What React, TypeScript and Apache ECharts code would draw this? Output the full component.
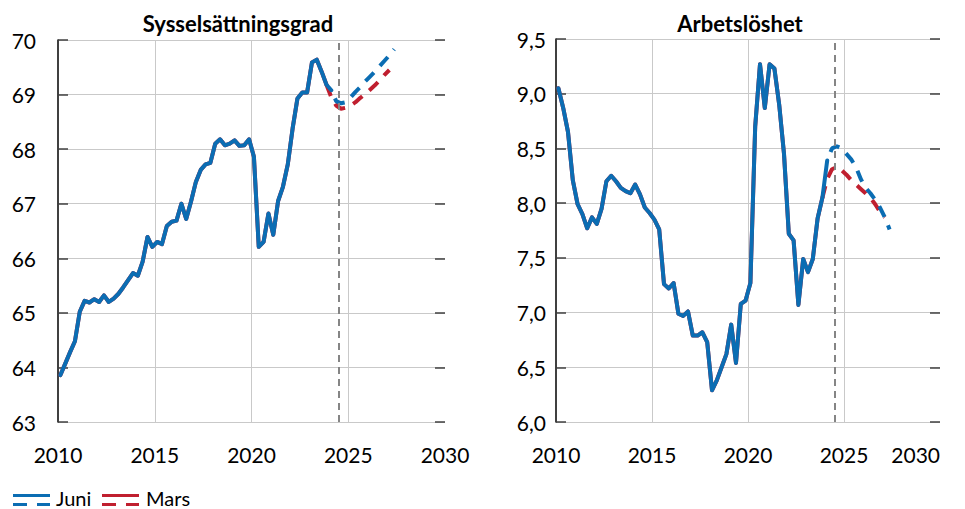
import React, { useEffect, useRef } from "react";
import * as echarts from "echarts";

// Quarterly data, first point = 2010 Q1 (plotted at mid-quarter)
const firstQuarter = 2010.125;
const quarterStep = 0.25;
const forecastMarker = 2024.5;

// Sysselsättningsgrad (employment rate), outcome 2010Q1–2024Q1
const sysOutcome = [
  63.86, 64.07, 64.28, 64.48, 65.02, 65.22, 65.19, 65.25, 65.2, 65.32,
  65.2, 65.26, 65.35, 65.47, 65.6, 65.73, 65.68, 65.94, 66.39, 66.21,
  66.3, 66.26, 66.59, 66.67, 66.69, 67.0, 66.72, 67.04, 67.4, 67.62,
  67.72, 67.75, 68.1, 68.18, 68.07, 68.1, 68.16, 68.06, 68.07, 68.18,
  67.86, 66.21, 66.3, 66.82, 66.43, 67.05, 67.31, 67.72, 68.38, 68.93,
  69.04, 69.04, 69.59, 69.64, 69.42, 69.18, 69.08,
];
// Juni forecast 2024Q1–2027Q2
const sysJuniForecast = [
  69.08, 68.88, 68.84, 68.86, 68.95, 69.05, 69.14, 69.24, 69.33, 69.42,
  69.52, 69.62, 69.72, 69.83,
];
// Mars forecast 2023Q4–2027Q1
const sysMarsForecast = [
  69.18, 68.95, 68.8, 68.74, 68.76, 68.8, 68.86, 68.94, 69.01, 69.09,
  69.17, 69.26, 69.36, 69.45,
];

// Arbetslöshet (unemployment), outcome 2010Q1–2024Q1
const arbOutcome = [
  9.05, 8.87, 8.65, 8.21, 7.99, 7.9, 7.77, 7.87, 7.81, 7.95,
  8.2, 8.25, 8.2, 8.14, 8.11, 8.09, 8.17, 8.08, 7.96, 7.91,
  7.85, 7.76, 7.26, 7.22, 7.27, 6.99, 6.97, 7.01, 6.79, 6.79,
  6.82, 6.73, 6.29, 6.38, 6.5, 6.62, 6.89, 6.54, 7.08, 7.11,
  7.27, 8.7, 9.27, 8.87, 9.27, 9.23, 8.9, 8.45, 7.72, 7.66,
  7.07, 7.49, 7.37, 7.49, 7.86, 8.05, 8.39,
];
const arbJuniForecast = [
  8.39, 8.5, 8.52, 8.5, 8.45, 8.4, 8.33, 8.22, 8.14, 8.09,
  8.03, 7.96, 7.87, 7.76,
];
const arbMarsForecast = [
  8.05, 8.22, 8.31, 8.33, 8.3, 8.26, 8.21, 8.17, 8.13, 8.09,
  8.05, 7.99, 7.92, 7.87,
];

const juniOutcomeEnd = 56; // index of 2024Q1
const marsOutcomeEnd = 55; // index of 2023Q4

const titles = ["Sysselsättningsgrad", "Arbetslöshet"];
const legendNames = ["Juni", "Mars"];

const blue = "#0b6db3";
const red = "#c01f2f";
const FONT = "Lato, 'Liberation Sans', sans-serif";

const toPoints = (values: number[], startIndex: number) =>
  values.map((v, k) => [firstQuarter + (startIndex + k) * quarterStep, v]);

export default function App() {
  const ref = useRef<HTMLDivElement>(null);

  useEffect(() => {
    if (!ref.current) return;
    const chart = echarts.init(ref.current, undefined, { renderer: "svg" });

    const panels = [
      {
        outcome: sysOutcome,
        juni: sysJuniForecast,
        mars: sysMarsForecast,
        min: 63,
        max: 70,
        interval: 1,
        fmt: (v: number) => String(v),
        labelMargin: 22,
      },
      {
        outcome: arbOutcome,
        juni: arbJuniForecast,
        mars: arbMarsForecast,
        min: 6,
        max: 9.5,
        interval: 0.5,
        fmt: (v: number) => v.toFixed(1).replace(".", ","),
        labelMargin: 10,
      },
    ];

    const xAxis: any[] = [];
    const yAxis: any[] = [];
    const series: any[] = [];

    panels.forEach((p, g) => {
      xAxis.push({
        gridIndex: g,
        type: "value",
        min: 2010,
        max: 2030,
        interval: 5,
        axisLine: { show: false },
        axisTick: { show: false },
        axisLabel: {
          fontSize: 21,
          color: "#000",
          fontFamily: FONT,
          margin: 22,
          formatter: (v: number) => String(v),
          alignMaxLabel: g === 1 ? "right" : undefined,
        },
        splitLine: {
          show: true,
          showMinLine: false,
          showMaxLine: false,
          lineStyle: { color: "#c9c9c9", width: 1 },
        },
      });
      yAxis.push({
        gridIndex: g,
        type: "value",
        position: "left",
        min: p.min,
        max: p.max,
        interval: p.interval,
        axisLine: { show: true, lineStyle: { color: "#000", width: 1.5 } },
        axisTick: {
          show: true,
          inside: true,
          length: 10,
          lineStyle: { color: "#404040", width: 1.5 },
        },
        axisLabel: {
          fontSize: 21,
          color: "#000",
          fontFamily: FONT,
          margin: p.labelMargin,
          formatter: p.fmt,
        },
        splitLine: { show: true, lineStyle: { color: "#c9c9c9", width: 1 } },
      });
      yAxis.push({
        gridIndex: g,
        type: "value",
        position: "right",
        min: p.min,
        max: p.max,
        interval: p.interval,
        axisLine: { show: false },
        axisTick: {
          show: true,
          inside: true,
          length: 10,
          lineStyle: { color: "#404040", width: 1.5 },
        },
        axisLabel: { show: false },
        splitLine: { show: false },
      });

      const base = {
        type: "line",
        xAxisIndex: g,
        yAxisIndex: 2 * g,
        showSymbol: false,
        symbol: "none",
        silent: true,
      };
      series.push({
        ...base,
        name: "Mars utfall",
        data: toPoints(p.outcome.slice(0, marsOutcomeEnd + 1), 0),
        lineStyle: { color: red, width: 4, join: "round", cap: "round" },
        markLine: {
          silent: true,
          symbol: ["none", "none"],
          label: { show: false },
          lineStyle: { color: "#858585", width: 2, type: [7, 5] },
          data: [{ xAxis: forecastMarker }],
        },
      });
      series.push({
        ...base,
        name: "Mars prognos",
        data: toPoints(p.mars, marsOutcomeEnd),
        lineStyle: { color: red, width: 4, type: [12, 9], cap: "butt" },
      });
      series.push({
        ...base,
        name: "Juni utfall",
        data: toPoints(p.outcome.slice(0, juniOutcomeEnd + 1), 0),
        lineStyle: { color: blue, width: 4, join: "round", cap: "round" },
      });
      series.push({
        ...base,
        name: "Juni prognos",
        data: toPoints(p.juni, juniOutcomeEnd),
        lineStyle: {
          color: blue,
          width: 4,
          type: [12, 9],
          dashOffset: 12,
          cap: "butt",
        },
      });
    });

    const legendIcon = (x: number, color: string) => [
      { type: "rect", shape: { x, y: 494, width: 37, height: 3 }, style: { fill: color } },
      { type: "rect", shape: { x, y: 503, width: 14, height: 3 }, style: { fill: color } },
      { type: "rect", shape: { x: x + 24, y: 503, width: 13, height: 3 }, style: { fill: color } },
    ];

    const legendText = (x: number, text: string) => ({
      type: "text",
      x,
      y: 498,
      style: {
        text,
        fontSize: 20,
        fontFamily: FONT,
        fill: "#000",
        align: "left",
        verticalAlign: "middle",
      },
    });

    const titleText = (x: number, text: string) => ({
      type: "text",
      x,
      y: 23,
      style: {
        text,
        fontSize: 22,
        fontWeight: "bold",
        fontFamily: FONT,
        fill: "#000",
        align: "center",
        verticalAlign: "middle",
      },
    });

    const graphic: any[] = [
      titleText(238, titles[0]),
      titleText(740, titles[1]),
      ...legendIcon(13, blue),
      legendText(56, legendNames[0]),
      ...legendIcon(102, red),
      legendText(146, legendNames[1]),
    ];

    chart.setOption({
      animation: false,
      backgroundColor: "#fff",
      textStyle: { fontFamily: FONT },
      grid: [
        { left: 58, top: 40, width: 387, height: 382 },
        { left: 556, top: 39, width: 384, height: 383 },
      ],
      xAxis,
      yAxis,
      series,
      graphic,
    });

    return () => chart.dispose();
  }, []);

  return (
    <div
      ref={ref}
      style={{ position: "fixed", left: 0, top: 0, width: 965, height: 509 }}
    />
  );
}
